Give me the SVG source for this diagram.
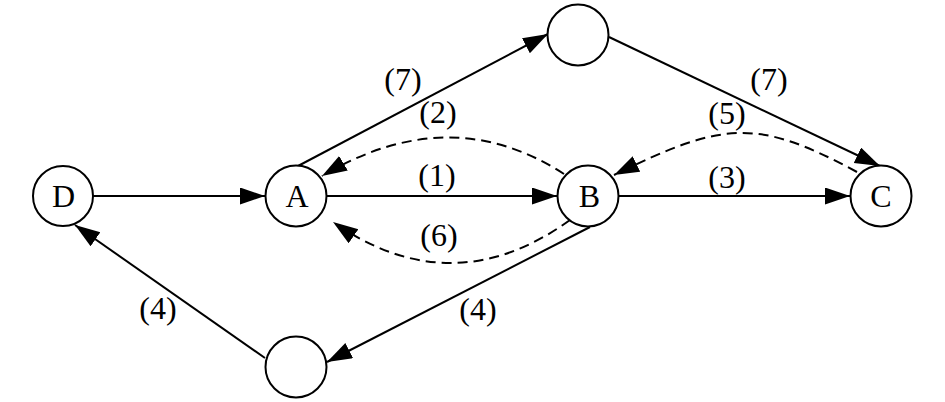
<svg xmlns="http://www.w3.org/2000/svg" width="945" height="402" viewBox="0 0 945 402">
<style>
.n circle{fill:#fff;stroke:#000;stroke-width:2}
text{font-family:"Liberation Serif","Times New Roman",serif;font-size:32px;fill:#000;text-anchor:middle}
.e{fill:none;stroke:#000;stroke-width:2}
.d{stroke-dasharray:10,6}
</style>
<defs>
<marker id="ah" markerUnits="userSpaceOnUse" markerWidth="26" markerHeight="18" refX="25" refY="8.5" orient="auto">
<path d="M0,0 L25,8.5 L0,17 z" fill="#000" stroke="none"/>
</marker>
</defs>
<rect width="945" height="402" fill="#fff"/>
<g id="connectors">
<path class="e" d="M93,196 L265,196" marker-end="url(#ah)"/>
<path class="e" d="M327,196 L557,196" marker-end="url(#ah)"/>
<path class="e" d="M619,196 L850,196" marker-end="url(#ah)"/>
<path class="e" d="M298,166 L548,34" marker-end="url(#ah)"/>
<path class="e" d="M609,37 L880,166" marker-end="url(#ah)"/>
<path class="e" d="M590,227 L327,362" marker-end="url(#ah)"/>
<path class="e" d="M265,358 L75,225" marker-end="url(#ah)"/>
<path class="e d" d="M564,174 Q450,100 322,176" marker-end="url(#ah)"/>
<path class="e d" d="M857,172 C757,118 724,121 614,175" marker-end="url(#ah)"/>
<path class="e d" d="M570,220 Q452,305 333,222" marker-end="url(#ah)"/>
<text x="403" y="90">(7)</text>
<text x="438" y="123">(2)</text>
<text x="437" y="186">(1)</text>
<text x="439" y="246">(6)</text>
<text x="769" y="90">(7)</text>
<text x="727" y="124">(5)</text>
<text x="727" y="188">(3)</text>
<text x="158" y="319">(4)</text>
<text x="478" y="320">(4)</text>
</g>
<g id="D" class="n"><circle cx="63" cy="196" r="30"/><text x="63.5" y="207">D</text></g>
<g id="A" class="n"><circle cx="296" cy="196" r="30.5"/><text x="297" y="207">A</text></g>
<g id="B" class="n"><circle cx="588" cy="196" r="30.5"/><text x="589.5" y="207">B</text></g>
<g id="C" class="n"><circle cx="881" cy="196" r="30.5"/><text x="881" y="207">C</text></g>
<g id="top" class="n"><circle cx="578" cy="35" r="30.5"/></g>
<g id="bottom" class="n"><circle cx="296" cy="367" r="30.5"/></g>
</svg>
